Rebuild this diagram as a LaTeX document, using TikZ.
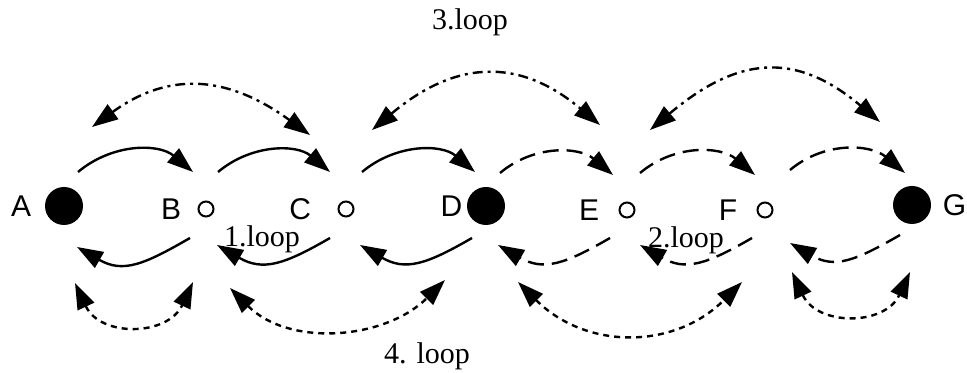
\documentclass[tikz,border=0pt]{standalone}
\usepackage{fontspec}
\setmainfont{Liberation Serif}
\newfontfamily\lettersf{Liberation Sans}
\usetikzlibrary{arrows.meta}

\begin{document}
\begin{tikzpicture}[
  x=0.5pt,y=0.5pt,
  >={Triangle[length=13pt,width=9pt]},
  bigdot/.style={circle,fill=black,minimum size=19pt,inner sep=0pt},
  hole/.style={circle,draw,line width=1pt,minimum size=7.5pt,inner sep=0pt},
  vlabel/.style={font=\lettersf\fontsize{15pt}{17pt}\selectfont,inner sep=0pt},
  looptext/.style={font=\fontsize{15pt}{17pt}\selectfont,inner sep=0pt},
  arc/.style={line width=1.2pt},
  longdash/.style={arc,dash pattern=on 8pt off 4pt},
  dashdot/.style={arc,dash pattern=on 5pt off 2.5pt on 1.5pt off 2.5pt},
  finedash/.style={arc,dash pattern=on 3pt off 2.5pt}
]
\useasboundingbox (0,0) rectangle (967,373);

% the points
\node[bigdot,label={[vlabel,label distance=6.5pt]left:A}] (A) at (64,167) {};
\node[hole,label={[vlabel,label distance=8pt]left:B}] (B) at (206,164) {};
\node[hole,label={[vlabel,label distance=13pt]left:C}] (C) at (346,164) {};
\node[bigdot,label={[vlabel,label distance=2pt]left:D}] (D) at (486,167) {};
\node[hole,label={[vlabel,label distance=9.5pt]left:E}] (E) at (627,163) {};
\node[hole,label={[vlabel,label distance=9.5pt]left:F}] (F) at (765,163) {};
\node[bigdot,label={[vlabel,label distance=5.5pt]right:G}] (G) at (912,168) {};

% loop names
\node[looptext] (l1) at (262,134) {1.loop};
\node[looptext] (l2) at (686,133) {2.loop};
\node[looptext] (l3) at (470,351) {3.loop};
\node[looptext] (l4) at (427,17) {4. loop};

% forward, upper row
\draw[arc,->] ([shift={(14,34)}]A.center) to[out=40,in=140] ([shift={(-13,37)}]B.center);
\draw[arc,->] ([shift={(12,37)}]B.center) to[out=40,in=140] ([shift={(-16,37)}]C.center);
\draw[arc,->] ([shift={(16,37)}]C.center) to[out=40,in=140] ([shift={(-11,34)}]D.center);
\draw[longdash,->] ([shift={(14,33)}]D.center) to[out=40,in=140] ([shift={(-14,35)}]E.center);
\draw[longdash,->] ([shift={(13,37)}]E.center) to[out=40,in=140] ([shift={(-10,35)}]F.center);
\draw[longdash,->] ([shift={(25,40)}]F.center) to[out=40,in=140] ([shift={(-7,32)}]G.center);

% backward, lower row
\draw[arc,->] ([shift={(-16,-29)}]B.center) to[out=-150,in=-30,looseness=1.2] ([shift={(13,-41)}]A.center);
\draw[arc,->] ([shift={(-16,-29)}]C.center) to[out=-150,in=-30,looseness=1.2] ([shift={(11,-36)}]B.center);
\draw[arc,->] ([shift={(-14,-32)}]D.center) to[out=-150,in=-30,looseness=1.2] ([shift={(14,-36)}]C.center);
\draw[longdash,->] ([shift={(-17,-28)}]E.center) to[out=-150,in=-30,looseness=1.2] ([shift={(12,-39)}]D.center);
\draw[longdash,->] ([shift={(-13,-28)}]F.center) to[out=-150,in=-30,looseness=1.2] ([shift={(13,-35)}]E.center);
\draw[longdash,->] ([shift={(-12,-30)}]G.center) to[out=-150,in=-30,looseness=1.2] ([shift={(25,-33)}]F.center);

% 3. loop
\draw[dashdot,<->] ([shift={(28,79)}]A.center) to[out=36,in=144,looseness=1.15] ([shift={(-36,74)}]C.center);
\draw[dashdot,<->] ([shift={(26,79)}]C.center) to[out=40,in=140,looseness=1.2] ([shift={(-27,85)}]E.center);
\draw[dashdot,<->] ([shift={(23,80)}]E.center) to[out=40,in=140,looseness=1.25] ([shift={(-32,83)}]G.center);

% 4. loop
\draw[finedash,<->] ([shift={(11,-77)}]A.center) to[out=-65,in=-115,looseness=1.3] ([shift={(-13,-73)}]B.center);
\draw[finedash,<->] ([shift={(24,-79)}]B.center) to[out=-45,in=-135] ([shift={(-41,-74)}]D.center);
\draw[finedash,<->] ([shift={(32,-76)}]D.center) to[out=-45,in=-135,looseness=1.1] ([shift={(-23,-72)}]F.center);
\draw[finedash,<->] ([shift={(27,-62)}]F.center) to[out=-65,in=-115,looseness=1.3] ([shift={(-2,-67)}]G.center);
\end{tikzpicture}
\end{document}
